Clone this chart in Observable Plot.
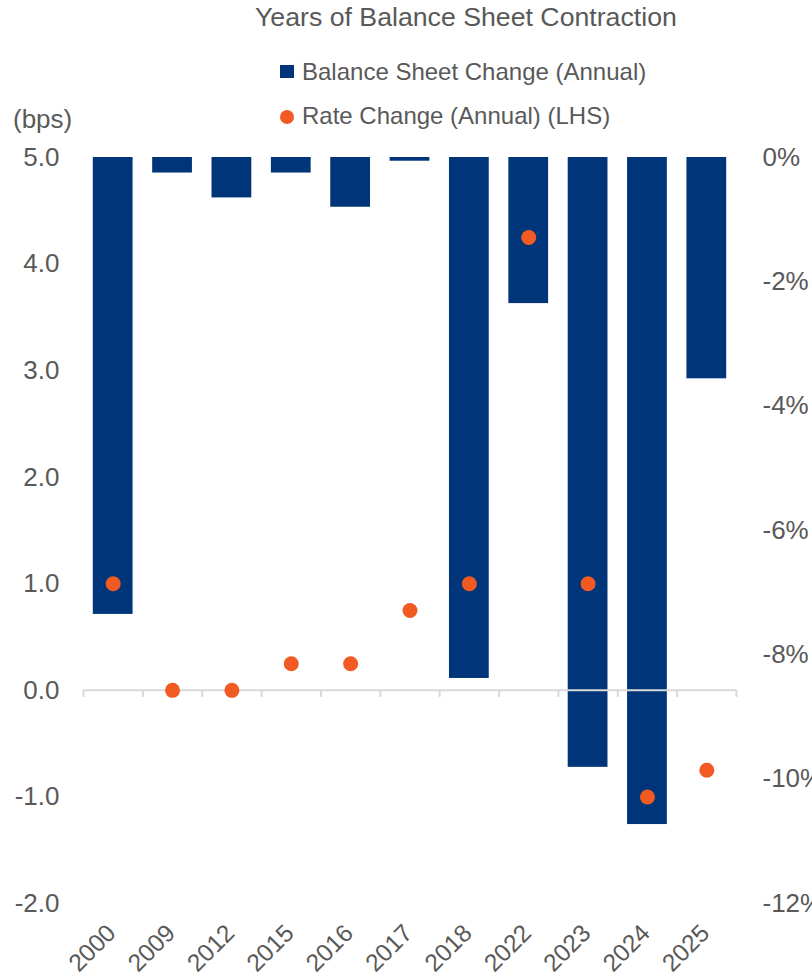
<!DOCTYPE html>
<html>
<head>
<meta charset="utf-8">
<script src="https://cdn.jsdelivr.net/npm/d3@7"></script>
<script src="https://cdn.jsdelivr.net/npm/@observablehq/plot@0.6"></script>
<style>
  html, body { margin: 0; padding: 0; background: #fff; }
  body { width: 812px; height: 977px; overflow: hidden; font-family: "Liberation Sans", Arial, sans-serif; color: #595959; }
  #header { position: relative; width: 812px; height: 130px; }
  .t { position: absolute; white-space: nowrap; line-height: 1; }
  #title { left: 255px; top: 4px; font-size: 26.7px; }
  #leg1 { left: 302px; top: 60px; font-size: 24px; }
  #leg2 { left: 302px; top: 104px; font-size: 24px; }
  #bps { left: 13px; top: 106px; font-size: 26px; }
  #sq { position: absolute; left: 280px; top: 65px; width: 14px; height: 13px; background: #003679; }
  #ci { position: absolute; left: 280px; top: 110px; width: 14px; height: 14px; border-radius: 50%; background: #F15A22; }
</style>
</head>
<body>
<div id="header">
  <div class="t" id="title">Years of Balance Sheet Contraction</div>
  <div id="sq"></div>
  <div class="t" id="leg1">Balance Sheet Change (Annual)</div>
  <div id="ci"></div>
  <div class="t" id="leg2">Rate Change (Annual) (LHS)</div>
  <div class="t" id="bps">(bps)</div>
</div>
<div id="chart"></div>
<script>
// Data
const years = ["2000","2009","2012","2015","2016","2017","2018","2022","2023","2024","2025"];
const balanceSheetChange = [-7.35, -0.25, -0.65, -0.25, -0.8, -0.06, -8.38, -2.35, -9.81, -10.73, -3.56]; // % (RHS)
const rateChange = [1.0, 0.0, 0.0, 0.25, 0.25, 0.75, 1.0, 4.25, 1.0, -1.0, -0.75]; // LHS
const leftTicks = [5, 4, 3, 2, 1, 0, -1, -2];
const rightTicks = [0, -2, -4, -6, -8, -10, -12];

// Axis alignment: 0% <-> 5.0, -12% <-> -2.0
const leftTop = 5, leftBottom = -2, rightTop = 0, rightBottom = -12;
const toLeft = p => leftTop + (p - rightTop) * (leftTop - leftBottom) / (rightTop - rightBottom);
const toRight = v => rightTop + (v - leftTop) * (rightTop - rightBottom) / (leftTop - leftBottom);

const data = years.map((y, i) => ({year: y, bs: balanceSheetChange[i], rate: rateChange[i]}));

const W = 812, H = 847, mL = 83, mR = 76, mT = 27, mB = 74;
const step = (W - mL - mR) / years.length;
const navy = "#003679", orange = "#F15A22", gray = "#595959", axisGray = "#d9d9d9";

const chart = Plot.plot({
  width: W,
  height: H,
  marginTop: mT,
  marginBottom: mB,
  marginLeft: mL,
  marginRight: mR,
  style: {fontFamily: "'Liberation Sans', Arial, sans-serif", fontSize: "26px", color: gray, background: "#fff", overflow: "visible"},
  x: {domain: years, paddingInner: 0.33, paddingOuter: 0.165, round: false, axis: null},
  y: {domain: [leftBottom, leftTop], axis: null},
  marks: [
    Plot.barY(data, {x: "year", y1: d => toLeft(0), y2: d => toLeft(d.bs), fill: navy}),
    Plot.ruleY([0], {stroke: axisGray, strokeWidth: 2}),
    Plot.ruleX(years, {x: d => d, y1: 0, y2: 0, insetBottom: -7, dx: -step / 2, stroke: axisGray, strokeWidth: 2}),
    Plot.ruleX(years.slice(-1), {x: d => d, y1: 0, y2: 0, insetBottom: -7, dx: step / 2, stroke: axisGray, strokeWidth: 2}),
    Plot.dot(data, {x: "year", y: "rate", r: 7.5, fill: orange, stroke: null}),
    Plot.axisY({anchor: "left", ticks: leftTicks, tickFormat: d => d.toFixed(1), tickSize: 0, tickPadding: 24, label: null, fill: gray}),
    Plot.axisY({anchor: "right", ticks: rightTicks.map(toLeft), tickFormat: v => Math.round(toRight(v)) + "%", tickSize: 0, tickPadding: 26, label: null, fill: gray}),
    Plot.text(years, {x: d => d, frameAnchor: "bottom", dx: 4, dy: 31, rotate: -45, textAnchor: "end", lineAnchor: "bottom", fontSize: 24.5, fill: gray})
  ]
});
document.getElementById("chart").appendChild(chart);
</script>
</body>
</html>
